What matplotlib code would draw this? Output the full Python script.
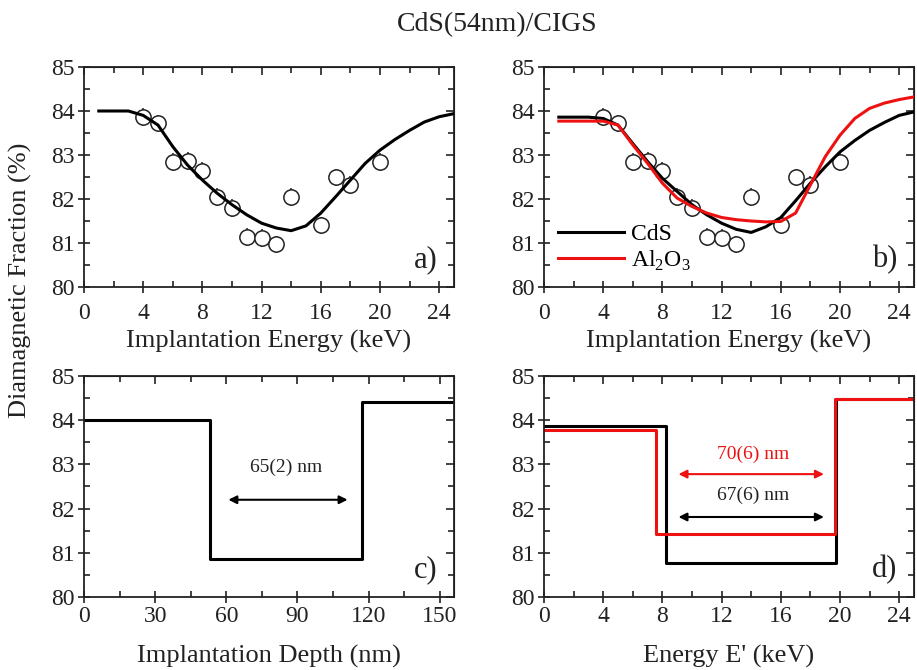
import numpy as np
import matplotlib
matplotlib.use('Agg')
import matplotlib.pyplot as plt
from matplotlib.ticker import MultipleLocator

plt.rcParams['font.family'] = ['Liberation Serif', 'DejaVu Serif']
plt.rcParams['mathtext.fontset'] = 'custom'
plt.rcParams['mathtext.rm'] = 'Liberation Serif'

# measured diamagnetic fraction vs implantation energy
energy = [4, 5, 6, 7, 8, 9, 10, 11, 12, 13, 14, 16, 17, 18, 20]
frac = [83.87, 83.72, 82.84, 82.86, 82.64, 82.04, 81.79, 81.13, 81.11, 80.97,
        82.05, 81.40, 82.49, 82.32, 82.84]
frac_err = [0.2] * len(energy)

# model curve, panel a
fit_x = [1, 2, 3, 4, 5, 6, 7, 8, 9, 10, 11, 12, 13, 14, 15, 16, 17, 18, 19,
         20, 21, 22, 23, 24, 25]
fit_a = [84.0, 84.0, 84.0, 83.9, 83.68, 83.19, 82.77, 82.43, 82.13, 81.87,
         81.64, 81.45, 81.34, 81.28, 81.39, 81.68, 82.05, 82.43, 82.81, 83.11,
         83.35, 83.56, 83.75, 83.87, 83.94]

# model curves, panel b
fit_b_cds = [83.86, 83.86, 83.86, 83.83, 83.68, 83.26, 82.85, 82.47, 82.17,
             81.87, 81.64, 81.45, 81.31, 81.24, 81.37, 81.58, 81.96, 82.36,
             82.73, 83.07, 83.33, 83.56, 83.74, 83.9, 83.98]
fit_b_al = [83.77, 83.77, 83.77, 83.77, 83.68, 83.23, 82.81, 82.36, 82.02,
            81.83, 81.68, 81.58, 81.53, 81.5, 81.48, 81.49, 81.68, 82.32,
            82.96, 83.45, 83.83, 84.06, 84.18, 84.26, 84.32]

# step profiles
depth_x = [0, 53.3, 117.3, 156]
depth_y = [84.0, 80.87, 84.41, 84.41]
eprime_cds_x = [0, 8.25, 19.7, 25]
eprime_cds_y = [83.87, 80.78, 84.47, 84.47]
eprime_al_x = [0, 7.55, 19.64, 25]
eprime_al_y = [83.77, 81.42, 84.47, 84.47]

fig = plt.figure(figsize=(9.17, 6.70), dpi=100)
W, H = 917, 670
INK = '#222222'


def make_ax(l, t, r, b):
    return fig.add_axes([l / W, 1 - b / H, (r - l) / W, (b - t) / H])


def style(ax, xmax, xmaj, xmin, xpad):
    ax.set_xlim(0, xmax)
    ax.set_ylim(80, 85)
    ax.xaxis.set_major_locator(MultipleLocator(xmaj))
    ax.xaxis.set_minor_locator(MultipleLocator(xmin))
    ax.yaxis.set_major_locator(MultipleLocator(1))
    ax.yaxis.set_minor_locator(MultipleLocator(0.5))
    ax.tick_params(which='major', direction='inout', length=9, width=1.2,
                   labelsize=17, pad=2, colors=INK)
    ax.tick_params(axis='x', which='major', pad=xpad)
    ax.tick_params(which='minor', direction='in', length=4, width=1.2,
                   colors=INK)
    for s in ax.spines.values():
        s.set_linewidth(1.3)
        s.set_color(INK)
    top = ax.secondary_xaxis('top')
    top.xaxis.set_major_locator(MultipleLocator(xmaj))
    top.xaxis.set_minor_locator(MultipleLocator(xmin))
    top.tick_params(which='major', direction='in', length=6, width=1.2,
                    labeltop=False, colors=INK)
    top.tick_params(which='minor', direction='in', length=4, width=1.2,
                    colors=INK)
    right = ax.secondary_yaxis('right')
    right.yaxis.set_major_locator(MultipleLocator(1))
    right.yaxis.set_minor_locator(MultipleLocator(0.5))
    right.tick_params(which='major', direction='in', length=6, width=1.2,
                      labelright=False, colors=INK)
    right.tick_params(which='minor', direction='in', length=4, width=1.2,
                      colors=INK)


axa = make_ax(84, 67, 454, 287)
axb = make_ax(544, 67, 914, 287)
axc = make_ax(84, 376, 454, 597)
axd = make_ax(544, 376, 914, 597)

for ax in (axa, axb):
    style(ax, 25, 4, 2, 7)
    ax.errorbar(energy, frac, yerr=frac_err, fmt='o', mfc='white',
                mec=INK, ecolor=INK, ms=11, mew=1.1,
                elinewidth=1.1, capsize=0, zorder=3)
    ax.set_xlabel('Implantation Energy (keV)', fontsize=19, labelpad=4,
                  color=INK)

axa.plot(fit_x, fit_a, color='black', lw=2.2, zorder=4)
axb.plot(fit_x, fit_b_cds, color='black', lw=2.2, zorder=4, label='CdS')
axb.plot(fit_x, fit_b_al, color='#ee1111', lw=2.2, zorder=5,
         label='Al$_2$O$_3$')
axb.legend(loc='lower left', frameon=False, fontsize=17, handlelength=2.8,
           handletextpad=0.3, borderaxespad=0.2, labelspacing=0.15,
           bbox_to_anchor=(0.0, 0.0))

style(axc, 156, 30, 15, 2)
axc.plot(depth_x, depth_y, drawstyle='steps-post', color='black', lw=2.2)
axc.annotate('', xy=(59.7, 82.2), xytext=(112.3, 82.2),
             arrowprops=dict(arrowstyle='<|-|>', color='black', lw=1.5,
                             mutation_scale=12))
axc.text(85.4, 82.93, '65(2) nm', ha='center', va='center', fontsize=14,
         color=INK)
axc.set_xlabel('Implantation Depth (nm)', fontsize=19, labelpad=13,
               color=INK)

style(axd, 25, 4, 2, 2)
axd.plot(eprime_cds_x, eprime_cds_y, drawstyle='steps-post', color='black',
         lw=2.2)
axd.plot(eprime_al_x, eprime_al_y, drawstyle='steps-post', color='#ee1111',
         lw=2.2)
axd.annotate('', xy=(8.9, 82.78), xytext=(19.1, 82.78),
             arrowprops=dict(arrowstyle='<|-|>', color='#ee1111', lw=1.5,
                             mutation_scale=12))
axd.annotate('', xy=(8.9, 81.81), xytext=(19.1, 81.81),
             arrowprops=dict(arrowstyle='<|-|>', color='black', lw=1.5,
                             mutation_scale=12))
axd.text(14.1, 83.22, '70(6) nm', ha='center', va='center', fontsize=14,
         color='#ee1111')
axd.text(14.1, 82.3, '67(6) nm', ha='center', va='center', fontsize=14,
         color=INK)
axd.set_xlabel("Energy E' (keV)", fontsize=19, labelpad=13, color=INK)

for ax, lab in zip((axa, axb, axc, axd), ('a)', 'b)', 'c)', 'd)')):
    ax.text(0.955, 0.06, lab, transform=ax.transAxes, ha='right',
            va='bottom', fontsize=22, color=INK)

fig.text(497 / W, 1 - 25 / H, 'CdS(54nm)/CIGS', ha='center', va='center',
         fontsize=20, color=INK)
fig.text(20 / W, 1 - 280 / H, 'Diamagnetic Fraction (%)', ha='center',
         va='center', rotation=90, fontsize=19, color=INK)

fig.savefig('out.png', dpi=100)
